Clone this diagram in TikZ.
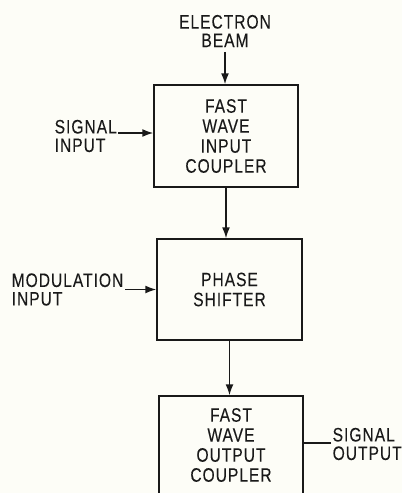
\documentclass[tikz,border=0pt]{standalone}
\usepackage{fontspec}
\usetikzlibrary{arrows.meta}
\newfontfamily\labfont[FakeStretch=0.8,LetterSpace=5,FakeBold=0.1]{Liberation Sans}
\definecolor{ink}{RGB}{25,25,25}
\definecolor{paper}{RGB}{253,253,247}
\begin{document}
\begin{tikzpicture}[x=1pt,y=-1pt,
  ink/.style={draw=ink,line width=1.5pt},
  arr/.style={ink,-{Latex[length=11pt,width=8pt]}},
  blockbox/.style={ink,inner sep=0pt,text=ink,align=center,
     font=\labfont\fontsize{19.5}{20}\selectfont},
  lbl/.style={inner sep=1.5pt,text=ink,font=\labfont\fontsize{19.5}{18.5}\selectfont}]
\clip (0,0) rectangle (402,493);
\fill[paper] (0,0) rectangle (402,493);
% blocks
\node[blockbox,minimum width=144pt,minimum height=102pt] (b1) at (226,136)
  {FAST\\WAVE\\INPUT\\COUPLER};
\node[blockbox,minimum width=145pt,minimum height=101pt] (b2) at (229.5,289.5)
  {PHASE\\SHIFTER};
\node[blockbox,minimum width=144pt,minimum height=98pt] (b3) at (231,445)
  {FAST\\WAVE\\OUTPUT\\COUPLER};
% labels
\node[lbl,align=center] (beam) at (225,31) {ELECTRON\\BEAM};
\node[lbl,align=left,anchor=west] (sigin) at (53,136) {SIGNAL\\INPUT};
\node[lbl,align=left,anchor=west] (modin) at (10,289.5) {MODULATION\\INPUT};
\node[lbl,align=left,anchor=west] (sigout) at (331,444) {SIGNAL\\OUTPUT};
% connectors
\draw[arr] ([yshift=-3pt]beam.south) -- (beam.south |- b1.north);
\draw[arr] ([yshift=3pt]sigin.east) -- ([yshift=3pt]sigin.east -| b1.west);
\draw[arr] (b1.south) -- (b1.south |- b2.north);
\draw[arr] (modin.east) -- (modin.east -| b2.west);
\draw[arr] (b2.south) -- (b2.south |- b3.north);
\draw[ink] ([yshift=1pt]sigout.west) -- ([yshift=1pt]sigout.west -| b3.east);
\end{tikzpicture}
\end{document}
